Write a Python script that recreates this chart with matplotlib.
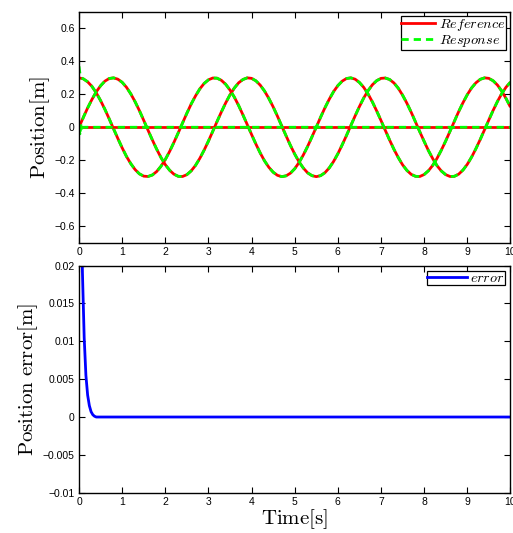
import matplotlib
matplotlib.use("Agg")
import matplotlib.pyplot as plt

plt.rcParams['mathtext.fontset'] = 'cm'
plt.rcParams['font.family'] = ['Liberation Sans', 'DejaVu Sans']

# ---------------- data ----------------
time_ref = [round(0.1 * i, 1) for i in range(101)]

ref_sin = [0.000, 0.060, 0.117, 0.169, 0.215, 0.252, 0.280, 0.296, 0.300, 0.292,
           0.273, 0.243, 0.203, 0.155, 0.101, 0.042, -0.018, -0.077, -0.133, -0.184,
           -0.227, -0.261, -0.285, -0.298, -0.299, -0.288, -0.265, -0.232, -0.189, -0.139,
           -0.084, -0.025, 0.035, 0.093, 0.148, 0.197, 0.238, 0.270, 0.290, 0.300,
           0.297, 0.282, 0.256, 0.220, 0.175, 0.124, 0.067, 0.007, -0.052, -0.110,
           -0.163, -0.210, -0.248, -0.277, -0.294, -0.300, -0.294, -0.276, -0.247, -0.208,
           -0.161, -0.107, -0.050, 0.010, 0.069, 0.126, 0.178, 0.222, 0.258, 0.283,
           0.297, 0.299, 0.290, 0.269, 0.237, 0.195, 0.146, 0.091, 0.032, -0.028,
           -0.086, -0.142, -0.191, -0.234, -0.266, -0.288, -0.299, -0.298, -0.285, -0.260,
           -0.225, -0.181, -0.130, -0.074, -0.015, 0.045, 0.103, 0.157, 0.205, 0.244,
           0.274]

ref_cos = [0.300, 0.294, 0.276, 0.248, 0.209, 0.162, 0.109, 0.051, -0.009, -0.068,
           -0.125, -0.177, -0.221, -0.257, -0.283, -0.297, -0.299, -0.290, -0.269, -0.237,
           -0.196, -0.147, -0.092, -0.034, 0.026, 0.085, 0.141, 0.190, 0.233, 0.266,
           0.288, 0.299, 0.298, 0.285, 0.261, 0.226, 0.183, 0.132, 0.075, 0.016,
           -0.044, -0.102, -0.156, -0.204, -0.243, -0.273, -0.292, -0.300, -0.295, -0.279,
           -0.252, -0.214, -0.168, -0.116, -0.058, 0.001, 0.061, 0.118, 0.170, 0.216,
           0.253, 0.280, 0.296, 0.300, 0.292, 0.272, 0.242, 0.202, 0.154, 0.099,
           0.041, -0.019, -0.078, -0.134, -0.184, -0.228, -0.262, -0.286, -0.298, -0.299,
           -0.287, -0.264, -0.231, -0.188, -0.138, -0.083, -0.024, 0.036, 0.095, 0.149,
           0.198, 0.239, 0.270, 0.291, 0.300, 0.297, 0.282, 0.256, 0.219, 0.174,
           0.122]

ref_zero = [0.0] * 101

# response: short initial transient, then follows the reference
time_resp = [0.0, 0.02, 0.05] + time_ref[1:]
resp_sin = [0.0, -0.05, 0.02] + ref_sin[1:]
resp_cos = [0.37, 0.33, 0.30] + ref_cos[1:]
resp_zero = [0.0, -0.04, -0.01] + ref_zero[1:]

time_err = [0.0, 0.04, 0.08, 0.12, 0.16, 0.20, 0.24, 0.28, 0.32, 0.36, 0.40,
            1, 2, 3, 4, 5, 6, 7, 8, 9, 10]
error = [0.060, 0.033, 0.019, 0.0105, 0.0055, 0.0029, 0.0015, 0.0007, 0.0003, 0.0001, 0.0,
         0.0, 0.0, 0.0, 0.0, 0.0, 0.0, 0.0, 0.0, 0.0, 0.0]

xticks = [0, 1, 2, 3, 4, 5, 6, 7, 8, 9, 10]
yticks_top = [-0.6, -0.4, -0.2, 0, 0.2, 0.4, 0.6]
ylabels_top = ['\u22120.6', '\u22120.4', '\u22120.2', '0', '0.2', '0.4', '0.6']
yticks_bot = [-0.01, -0.005, 0, 0.005, 0.01, 0.015, 0.02]
ylabels_bot = ['\u22120.01', '\u22120.005', '0', '0.005', '0.01', '0.015', '0.02']

# ---------------- figure ----------------
fig = plt.figure(figsize=(5.13, 5.33), dpi=100)
ax1 = fig.add_axes([0.154, 0.545, 0.841, 0.4325])
ax2 = fig.add_axes([0.154, 0.0756, 0.841, 0.426])

red = (1.0, 0.0, 0.0)
green = (0.0, 1.0, 0.0)
lw = 2.0
dash = (0, (2.6, 1.8))

for yr in (ref_sin, ref_cos, ref_zero):
    ax1.plot(time_ref, yr, color=red, lw=lw, solid_capstyle='butt')
for yr in (resp_sin, resp_cos, resp_zero):
    ax1.plot(time_resp, yr, color=green, lw=lw, ls=dash)

h_ref, = ax1.plot([], [], color=red, lw=lw)
h_resp, = ax1.plot([], [], color=green, lw=lw, ls=dash)
leg1 = ax1.legend([h_ref, h_resp], [r'$Reference$', r'$Response$'], loc='upper right',
                  fontsize=10.2, frameon=True, fancybox=False, edgecolor='black',
                  borderpad=0.05, labelspacing=0.0, handlelength=2.4, handletextpad=0.25,
                  borderaxespad=0.3, framealpha=1)
leg1.get_frame().set_linewidth(0.9)

ax2.plot(time_err, error, color=(0, 0, 1), lw=lw, label=r'$error$')
leg2 = ax2.legend(loc='upper right', fontsize=10.2, frameon=True, fancybox=False,
                  edgecolor='black', borderpad=0.0, handlelength=2.8, handletextpad=0.25,
                  borderaxespad=0.4, framealpha=1)
leg2.get_frame().set_linewidth(0.9)

ax1.set_xlim(0, 10)
ax1.set_ylim(-0.7, 0.7)
ax1.set_yticks(yticks_top)
ax1.set_yticklabels(ylabels_top)
ax2.set_xlim(0, 10)
ax2.set_ylim(-0.01, 0.02)
ax2.set_yticks(yticks_bot)
ax2.set_yticklabels(ylabels_bot)

for ax in (ax1, ax2):
    ax.set_xticks(xticks)
    ax.set_xticklabels([str(v) for v in xticks])
    ax.tick_params(direction='in', length=4, width=0.8, top=True, right=True,
                   labelsize=7.5, pad=3, colors='black')
    for s in ax.spines.values():
        s.set_linewidth(1.0)

ax1.set_ylabel(r'$\mathrm{Position[m]}$', fontsize=15, labelpad=2)
ax2.set_ylabel(r'$\mathrm{Position\ error[m]}$', fontsize=15, labelpad=2)
ax2.set_xlabel(r'$\mathrm{Time[s]}$', fontsize=15, labelpad=0)

fig.savefig('out.png', dpi=100)
